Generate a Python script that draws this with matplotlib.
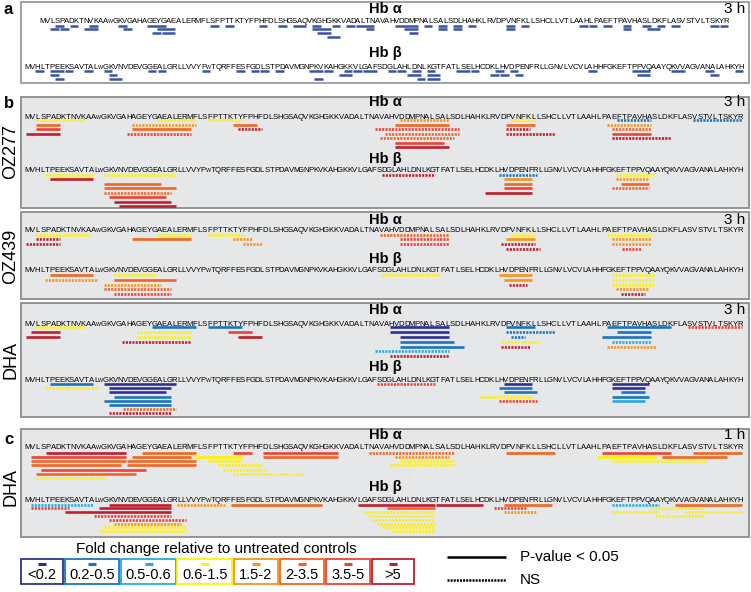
import matplotlib.pyplot as plt
from matplotlib.patches import Rectangle

plt.rcParams['font.family'] = ['Liberation Sans', 'DejaVu Sans']

W, H = 751, 592

hb_alpha = ("MVLSPADKTNVKAAWGKVGAHAGEYGAEALERMFLSFPTTKTYFPHFDLSHGSAQVKGHGKKVADAL"
            "TNAVAHVDDMPNALSALSDLHAHKLRVDPVNFKLLSHCLLVTLAAHLPAEFTPAVHASLDKFLASVSTVLTSKYR")
hb_beta = ("MVHLTPEEKSAVTALWGKVNVDEVGGEALGRLLVVYPWTQRFFESFGDLSTPDAVMGNPKVKAHGKKVLGAF"
           "SDGLAHLDNLKGTFATLSELHCDKLHVDPENFRLLGNVLVCVLAHHFGKEFTPPVQAAYQKVVAGVANALAHKYH")

fold_labels = ['<0.2', '0.2-0.5', '0.5-0.6', '0.6-1.5', '1.5-2', '2-3.5', '3.5-5', '>5']
fold_colors = ['#2e3192', '#1c75bc', '#27aae1', '#fff200', '#f7941d', '#f26522', '#ef4136', '#be1e2d']
a_color = '#3853a4'

# panel a peptides: (start, end, row)
a_alpha = [(4, 5, 1), (7, 8, 1), (11, 12, 1), (17, 18, 1), (23, 26, 1), (36, 37, 1), (39, 40, 1),
           (46, 47, 1), (50, 51, 1), (53, 55, 1), (57, 58, 1), (61, 62, 1), (64, 65, 1), (66, 69, 1),
           (74, 78, 1), (80, 81, 1), (83, 84, 1), (86, 87, 1), (89, 90, 1), (97, 98, 1), (100, 101, 1),
           (112, 113, 1), (114, 115, 1), (117, 118, 1), (121, 122, 1), (125, 126, 1), (128, 129, 1),
           (131, 132, 1), (139, 140, 1), (141, 142, 1),
           (3, 4, 2), (5, 6, 2), (10, 12, 2), (18, 19, 2), (25, 28, 2), (57, 60, 2), (68, 69, 2),
           (76, 78, 2), (83, 84, 2), (86, 87, 2), (97, 98, 2), (121, 122, 2), (126, 128, 2),
           (24, 25, 3), (26, 28, 3), (58, 60, 3), (77, 78, 3),
           (60, 62, 4)]
a_beta = [(3, 4, 1), (6, 8, 1), (9, 10, 1), (13, 14, 1), (17, 18, 1), (26, 27, 1), (28, 29, 1),
          (37, 38, 1), (44, 45, 1), (47, 48, 1), (49, 50, 1), (52, 53, 1), (59, 61, 1), (62, 63, 1),
          (66, 67, 1), (68, 69, 1), (70, 72, 1), (75, 76, 1), (77, 78, 1), (80, 81, 1), (83, 84, 1),
          (89, 91, 1), (92, 93, 1), (97, 98, 1), (100, 101, 1), (116, 117, 1), (125, 128, 1),
          (133, 135, 1), (140, 141, 1), (146, 147, 1),
          (6, 7, 2), (18, 19, 2), (65, 67, 2), (79, 81, 2), (83, 85, 2), (96, 97, 2), (98, 99, 2),
          (101, 102, 2), (126, 128, 2), (141, 142, 2),
          (7, 8, 3), (18, 20, 3), (60, 61, 3), (81, 82, 3), (83, 85, 3)]

# panels b, c peptides: (start, end, row, fold class, significant)
oz277_alpha = [(3, 12, 1, 3, 0), (27, 34, 1, 3, 0), (37, 43, 1, 3, 0),
               (3, 7, 2, 5, 1), (22, 34, 2, 4, 0), (42, 46, 2, 5, 1),
               (3, 7, 3, 6, 1), (22, 33, 3, 5, 1), (43, 47, 3, 7, 0),
               (1, 7, 4, 7, 1), (21, 33, 4, 6, 0),
               (75, 84, 1, 4, 0), (97, 101, 1, 3, 0), (118, 124, 1, 1, 0), (133, 142, 1, 1, 0),
               (74, 84, 2, 5, 1), (96, 101, 2, 5, 1), (116, 124, 2, 4, 0),
               (70, 86, 3, 6, 0), (96, 100, 3, 7, 0), (117, 124, 3, 5, 0),
               (72, 86, 4, 5, 0), (96, 105, 4, 7, 0), (117, 124, 4, 6, 1),
               (71, 85, 5, 5, 0), (117, 128, 5, 7, 0),
               (74, 83, 6, 6, 1),
               (74, 84, 7, 7, 1)]
oz277_beta = [(5, 14, 1, 3, 0), (17, 31, 1, 3, 0), (74, 84, 1, 7, 0), (98, 105, 1, 1, 0), (122, 129, 1, 3, 0),
              (6, 14, 2, 7, 1), (99, 104, 2, 4, 1), (122, 128, 2, 4, 0),
              (17, 28, 3, 5, 1), (99, 104, 3, 5, 1), (123, 128, 3, 5, 1),
              (17, 31, 4, 5, 1), (99, 104, 4, 6, 1), (121, 128, 4, 5, 0),
              (17, 30, 5, 5, 0), (95, 104, 5, 7, 1),
              (18, 29, 6, 6, 1),
              (19, 30, 7, 7, 1),
              (20, 31, 8, 7, 1)]
oz439_alpha = [(3, 13, 1, 3, 0), (27, 33, 1, 3, 0), (37, 43, 1, 3, 0),
               (71, 84, 1, 5, 0), (97, 101, 1, 3, 0), (116, 124, 1, 3, 0),
               (3, 7, 2, 7, 0), (22, 33, 2, 5, 1), (42, 45, 2, 4, 0),
               (75, 84, 2, 6, 0), (96, 101, 2, 4, 1), (117, 124, 2, 4, 0),
               (1, 7, 3, 7, 0), (44, 47, 3, 4, 0),
               (75, 84, 3, 6, 0), (95, 101, 3, 7, 0), (117, 124, 3, 4, 0),
               (96, 102, 4, 7, 0), (119, 122, 4, 6, 0)]
oz439_beta = [(6, 14, 1, 5, 1), (19, 27, 1, 3, 0), (74, 85, 1, 3, 0), (98, 104, 1, 4, 1), (121, 129, 1, 3, 0),
              (5, 15, 2, 4, 0), (19, 31, 2, 5, 1), (99, 104, 2, 4, 1), (121, 129, 2, 3, 0),
              (17, 28, 3, 4, 0), (100, 103, 3, 7, 0), (121, 129, 3, 3, 0),
              (17, 30, 4, 5, 0), (122, 128, 4, 4, 0),
              (19, 30, 5, 6, 0), (123, 127, 5, 7, 0)]
dha3_alpha = [(3, 12, 1, 3, 0), (26, 34, 1, 1, 1), (37, 43, 1, 1, 1),
              (73, 84, 1, 0, 1), (96, 101, 1, 1, 1), (116, 128, 1, 1, 1), (132, 142, 1, 6, 0),
              (2, 7, 2, 7, 1), (23, 33, 2, 3, 0), (41, 45, 2, 6, 1),
              (73, 84, 2, 0, 1), (96, 105, 2, 1, 0), (118, 124, 2, 1, 1),
              (1, 7, 3, 7, 1), (23, 33, 3, 3, 0), (43, 47, 3, 7, 1),
              (75, 84, 3, 0, 1), (97, 99, 3, 1, 0), (115, 124, 3, 1, 1),
              (20, 33, 4, 7, 0), (75, 85, 4, 1, 1), (95, 102, 4, 3, 0), (117, 124, 4, 2, 0),
              (75, 87, 5, 1, 1), (95, 100, 5, 7, 0), (116, 125, 5, 4, 0),
              (70, 84, 6, 2, 0),
              (73, 84, 7, 7, 0)]
dha3_beta = [(6, 14, 1, 1, 1), (17, 31, 1, 0, 1), (73, 84, 1, 6, 0), (99, 104, 1, 0, 1), (121, 128, 1, 0, 1),
             (5, 15, 2, 3, 0), (18, 30, 2, 0, 1), (98, 104, 2, 1, 1), (121, 127, 2, 0, 1),
             (18, 29, 3, 0, 1), (99, 105, 3, 1, 1), (123, 127, 3, 1, 1),
             (19, 30, 4, 1, 1), (94, 104, 4, 3, 0), (121, 128, 4, 1, 1),
             (17, 30, 5, 1, 1), (98, 105, 5, 6, 0), (121, 127, 5, 2, 1),
             (18, 30, 6, 1, 1),
             (21, 31, 7, 5, 0),
             (18, 30, 8, 7, 0)]
dha1_alpha = [(5, 20, 1, 7, 1), (24, 34, 1, 5, 1), (42, 45, 1, 6, 1), (48, 62, 1, 6, 1),
              (69, 85, 1, 5, 0), (96, 105, 1, 5, 1), (115, 128, 1, 6, 1), (133, 142, 1, 5, 1),
              (2, 20, 2, 6, 1), (22, 33, 2, 5, 1), (34, 43, 2, 3, 1), (48, 62, 2, 5, 1),
              (74, 84, 2, 4, 0), (114, 125, 2, 3, 1), (127, 139, 2, 5, 1),
              (2, 20, 3, 5, 1), (21, 34, 3, 5, 1), (37, 43, 3, 3, 0),
              (75, 85, 3, 3, 0), (117, 125, 3, 3, 0), (126, 135, 3, 3, 0),
              (2, 19, 4, 5, 1), (21, 34, 4, 5, 1), (39, 47, 4, 3, 0), (73, 85, 4, 3, 0),
              (4, 24, 5, 6, 1), (40, 48, 5, 3, 0),
              (3, 22, 6, 5, 1), (42, 55, 6, 3, 0),
              (3, 16, 7, 3, 0)]
dha1_beta = [(2, 14, 1, 2, 0), (18, 30, 1, 7, 1), (32, 41, 1, 4, 0), (43, 61, 1, 5, 1),
             (69, 84, 1, 7, 1), (85, 94, 1, 7, 1), (99, 108, 1, 5, 1), (121, 130, 1, 2, 0), (134, 147, 1, 5, 1),
             (2, 9, 2, 6, 0), (16, 30, 2, 7, 1), (75, 84, 2, 5, 1), (97, 103, 2, 6, 0), (129, 139, 2, 3, 0),
             (9, 30, 3, 7, 1), (70, 84, 3, 3, 0), (99, 105, 3, 4, 0), (121, 130, 3, 3, 0), (136, 147, 3, 3, 0),
             (15, 30, 4, 6, 0), (71, 84, 4, 3, 0), (130, 139, 4, 3, 0),
             (18, 33, 5, 6, 0), (72, 84, 5, 3, 0),
             (19, 32, 6, 4, 0), (73, 84, 6, 3, 0),
             (17, 33, 7, 3, 0), (74, 84, 7, 3, 0),
             (16, 33, 8, 3, 0), (76, 84, 8, 3, 0)]

DASH = (0, (0.8, 0.45))
SEQ_FS = 5.6

fig = plt.figure(figsize=(W / 100, H / 100), dpi=100)
bg = fig.add_axes([0, 0, 1, 1])
bg.set_xlim(0, W)
bg.set_ylim(H, 0)
bg.axis('off')


def panel_box(y0, y1, face, edge):
    bg.add_patch(Rectangle((20.5, y0), 728.5, y1 - y0, facecolor=face, edgecolor=edge, lw=1.3))


def block(seq, peps, x0, x1, y_text, y_row1, dy, title, y_title, tag=None, lw=1.9, single=None):
    n = len(seq)
    nrows = max(p[2] for p in peps)
    top = y_text - 6
    bottom = y_row1 + dy * (nrows - 1) + 3
    ax = fig.add_axes([x0 / W, 1 - bottom / H, (x1 - x0) / W, (bottom - top) / H])
    ax.patch.set_visible(False)

    def to_row(y):
        return (y - y_row1) / dy + 1

    ax.set_xlim(0, n)
    ax.set_ylim(to_row(bottom), to_row(top))
    ax.axis('off')
    for i, ch in enumerate(seq):
        fs = SEQ_FS * (0.7 if ch == 'W' else 1.0)
        ax.text(i + 0.5, to_row(y_text + 2.8), ch, ha='center', va='baseline', fontsize=fs)
    for p in peps:
        s, e, r = p[:3]
        if single:
            color, sig = single, 1
        else:
            color, sig = fold_colors[p[3]], p[4]
        ax.plot([s - 1 + 0.12, e - 0.12], [r, r], color=color, lw=lw,
                linestyle='-' if sig else DASH,
                solid_capstyle='butt', dash_capstyle='butt', clip_on=False)
    bg.text(385, y_title, title, ha='center', va='center', fontsize=10.5, fontweight='bold')
    if tag:
        bg.text(745, y_title, tag, ha='right', va='center', fontsize=11)


# boxes
panel_box(2, 83, 'white', '#9a9a9a')
for y0, y1 in [(97, 208), (212, 299), (303, 417), (429, 537)]:
    panel_box(y0, y1, '#e6e7e8', '#8c8c8c')

# panel a
block(hb_alpha, a_alpha, 40, 729, 20.5, 25.7, 3.8, 'Hb α', 9, tag='3 h', lw=1.8, single=a_color)
block(hb_beta, a_beta, 25, 744, 66, 71, 4.0, 'Hb β', 53, lw=1.8, single=a_color)

# panel b
block(hb_alpha, oz277_alpha, 25.3, 742.7, 115.7, 120.3, 4.5, 'Hb α', 102, tag='3 h')
block(hb_beta, oz277_beta, 25.3, 742.7, 169.7, 174.7, 4.5, 'Hb β', 158.5)
block(hb_alpha, oz439_alpha, 25.3, 742.7, 229.3, 234.6, 4.7, 'Hb α', 220, tag='3 h')
block(hb_beta, oz439_beta, 25.3, 742.7, 269.5, 275, 4.8, 'Hb β', 258.5)
block(hb_alpha, dha3_alpha, 25.3, 742.7, 322.7, 327.3, 4.8, 'Hb α', 310, tag='3 h')
block(hb_beta, dha3_beta, 25.3, 742.7, 379.3, 384, 4.2, 'Hb β', 366.7)

# panel c
block(hb_alpha, dha1_alpha, 25.3, 742.7, 446, 452.5, 4.3, 'Hb α', 435, tag='1 h')
block(hb_beta, dha1_beta, 25.3, 742.7, 499.5, 504.5, 3.8, 'Hb β', 487)

# panel letters and side labels
for lab, y in [('a', 10), ('b', 103), ('c', 440)]:
    bg.text(4, y, lab, ha='left', va='center', fontsize=12, fontweight='bold')
for lab, y in [('OZ277', 152), ('OZ439', 256), ('DHA', 360), ('DHA', 487)]:
    bg.text(11, y, lab, ha='center', va='center', rotation=90, fontsize=13)

# legend
bg.text(216, 549, 'Fold change relative to untreated controls', ha='center', va='center', fontsize=11)
x = 20.5
for lab, col in zip(fold_labels, fold_colors):
    w = max(44, 20 + 5.2 * len(lab))
    bg.add_patch(Rectangle((x, 559), w - 1.5, 25, facecolor='white', edgecolor=col, lw=1.3))
    bg.plot([x + w / 2 - 4.5, x + w / 2 + 3.5], [563.5, 563.5], color=col, lw=2.2, solid_capstyle='butt')
    bg.text(x + w / 2 - 0.75, 575, lab, ha='center', va='center', fontsize=10.5)
    x += w

bg.plot([447, 506], [557, 557], color='black', lw=1.8, solid_capstyle='butt')
bg.plot([447, 506], [580, 580], color='black', lw=1.8, linestyle=DASH, dash_capstyle='butt')
bg.text(520, 557, 'P-value < 0.05', ha='left', va='center', fontsize=11)
bg.text(520, 580, 'NS', ha='left', va='center', fontsize=11)

fig.savefig('out.png', dpi=100)
